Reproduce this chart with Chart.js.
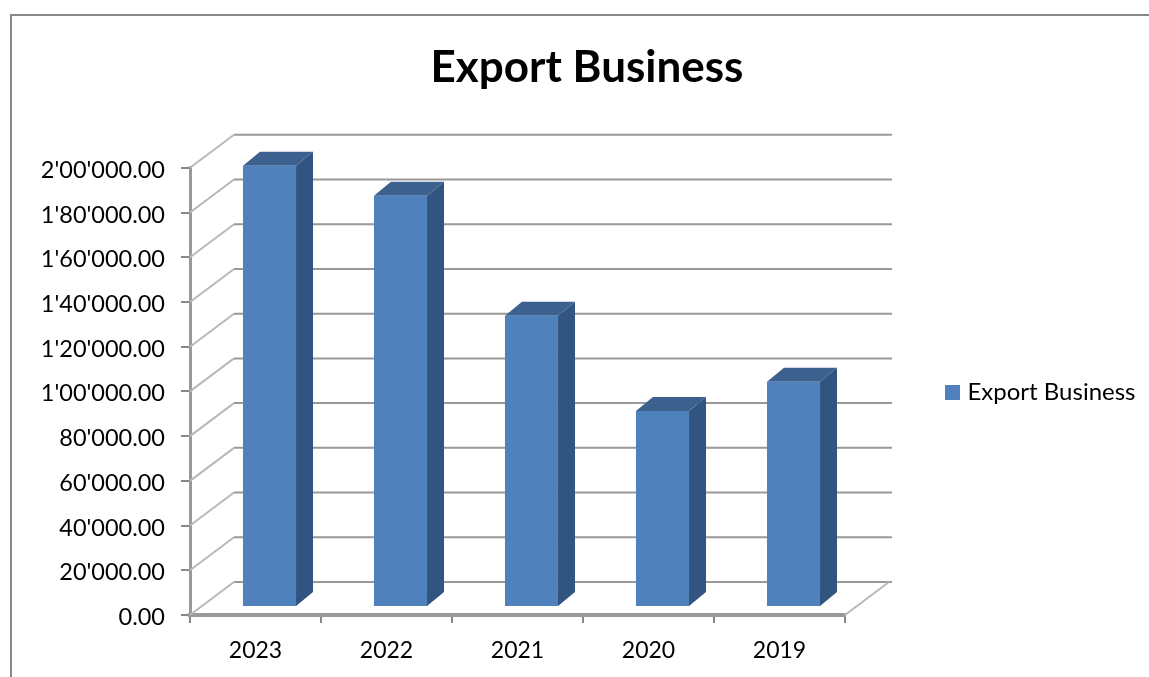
<!DOCTYPE html>
<html>
<head>
<meta charset="utf-8">
<title>Export Business</title>
<script src="https://cdn.jsdelivr.net/npm/chart.js@4"></script>
<style>
    html, body { margin: 0; padding: 0; background: #ffffff; overflow: hidden; }
    #wrap { position: relative; width: 1149px; height: 677px; }
    #frame { position: absolute; left: 10px; top: 14px; right: 0; bottom: 0; border-top: 2px solid #888888; border-left: 2px solid #888888; }
    #chart { position: absolute; left: 0; top: 0; }
</style>
</head>
<body>
<div id="wrap">
    <div id="frame"></div>
    <canvas id="chart" width="1149" height="677"></canvas>
</div>
<script>
// Chart data
const years = ['2023', '2022', '2021', '2020', '2019'];
const exportValues = [197300, 183900, 130200, 87700, 100700];
const yTickLabels = ['0.00', "20'000.00", "40'000.00", "60'000.00", "80'000.00", "1'00'000.00",
    "1'20'000.00", "1'40'000.00", "1'60'000.00", "1'80'000.00", "2'00'000.00"];

const fontFamily = 'Lato, "Open Sans", sans-serif';

// Fake 3D settings: wall depth, and where the bars stand on the floor
const wallDx = 44, wallDy = -33;
const barDx = 14, barDy = -8;
const depthDx = 17, depthDy = -14;

// Legend swatch as a small canvas, so the gap to the text can be tighter than the default
const swatch = document.createElement('canvas');
swatch.width = 15;
swatch.height = 15;
const swatchCtx = swatch.getContext('2d');
swatchCtx.fillStyle = '#4f81bd';
swatchCtx.fillRect(0, 0, 15, 15);

const fakeDepth = {
    id: 'fakeDepth',
    // Legend and title don't sit where the layout puts them, so move them by hand
    afterLayout(chart) {
        const lg = chart.legend;
        const moveX = 949.5 - 10 - lg.left;
        lg.left += moveX;
        lg.right += moveX;
        const moveY = 392 - (lg.top + lg.bottom) / 2;
        lg.top += moveY;
        lg.bottom += moveY;
        lg.adjustHitBoxes();
        const tb = chart.titleBlock;
        tb.left = 587 - tb.width / 2;
        tb.right = 587 + tb.width / 2;
    },
    beforeDatasetsDraw(chart) {
        const { ctx, scales: { x, y } } = chart;
        const left = x.left, right = x.right;

        // back wall lines and the diagonals running along the side wall
        ctx.save();
        ctx.lineWidth = 2;
        yTickLabels.forEach((_, i) => {
            const py = y.getPixelForValue(i * 20000);
            ctx.strokeStyle = '#b8b8b8';
            ctx.beginPath();
            ctx.moveTo(left, py);
            ctx.lineTo(left + wallDx, py + wallDy);
            ctx.stroke();
            ctx.strokeStyle = '#999999';
            ctx.beginPath();
            ctx.moveTo(left + wallDx, py + wallDy);
            ctx.lineTo(right + wallDx + 3, py + wallDy);
            ctx.stroke();
        });
        // floor edge on the right
        ctx.strokeStyle = '#b8b8b8';
        ctx.beginPath();
        ctx.moveTo(right, y.bottom);
        ctx.lineTo(right + wallDx, y.bottom + wallDy);
        ctx.stroke();

        // side and top faces of each bar
        chart.getDatasetMeta(0).data.forEach(bar => {
            const l = bar.x - bar.width / 2 + barDx;
            const r = bar.x + bar.width / 2 + barDx;
            const t = bar.y + barDy;
            const b = bar.base + barDy;
            ctx.fillStyle = '#325480';
            ctx.beginPath();
            ctx.moveTo(r, t);
            ctx.lineTo(r + depthDx, t + depthDy);
            ctx.lineTo(r + depthDx, b + depthDy);
            ctx.lineTo(r, b);
            ctx.closePath();
            ctx.fill();
            ctx.fillStyle = '#3c618f';
            ctx.beginPath();
            ctx.moveTo(l, t);
            ctx.lineTo(l + depthDx, t + depthDy);
            ctx.lineTo(r + depthDx, t + depthDy);
            ctx.lineTo(r, t);
            ctx.closePath();
            ctx.fill();
        });
        ctx.restore();

        // the front faces get drawn by Chart.js, pushed back into the depth
        ctx.save();
        ctx.translate(barDx, barDy);
    },
    afterDatasetsDraw(chart) {
        chart.ctx.restore();
    }
};

new Chart(document.getElementById('chart'), {
    type: 'bar',
    data: {
        labels: years,
        datasets: [{
            label: 'Export Business',
            data: exportValues,
            backgroundColor: '#4f81bd',
            borderColor: '#4f81bd',
            borderWidth: 0,
            barPercentage: 0.405,
            categoryPercentage: 1,
            clip: false
        }]
    },
    options: {
        responsive: false,
        animation: false,
        layout: { padding: { left: 0, right: 98, top: 0, bottom: 0 } },
        plugins: {
            title: {
                display: true,
                text: 'Export Business',
                color: '#000000',
                font: { family: fontFamily, size: 44, weight: 'bold', lineHeight: 1.2 },
                padding: { top: 41, bottom: 74 }
            },
            legend: {
                position: 'right',
                labels: {
                    color: '#000000',
                    font: { family: fontFamily, size: 24 },
                    usePointStyle: true,
                    pointStyle: swatch,
                    pointStyleWidth: 6
                }
            },
            tooltip: { enabled: false }
        },
        scales: {
            x: {
                afterFit(scale) { scale.height = 62; },
                border: { color: '#999999', width: 4 },
                grid: { drawOnChartArea: false, color: '#888888', lineWidth: 2, tickLength: 8 },
                ticks: { color: '#000000', font: { family: fontFamily, size: 23 }, padding: 14, maxRotation: 0 }
            },
            y: {
                min: 0,
                max: 200000,
                afterFit(scale) { scale.width = 190; },
                border: { color: '#999999', width: 3 },
                grid: { drawOnChartArea: false, color: '#888888', lineWidth: 2, tickLength: 9 },
                ticks: {
                    stepSize: 20000,
                    color: '#000000',
                    font: { family: fontFamily, size: 23.5 },
                    padding: 16,
                    labelOffset: 2.5,
                    callback: (value, index) => yTickLabels[index]
                }
            }
        }
    },
    plugins: [fakeDepth]
});
</script>
</body>
</html>
